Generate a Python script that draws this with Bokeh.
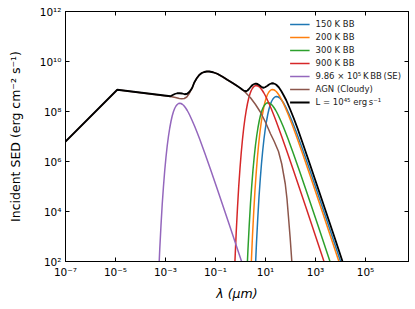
from bokeh.plotting import figure
from bokeh.models import FixedTicker, CustomJSTickFormatter, LogAxis
from bokeh.embed import file_html
from bokeh.resources import INLINE

# ---- data: log10(lambda / micron) and log10(SED / erg cm^-2 s^-1) ----
bb150_loglam = [0.58, 0.64, 0.69, 0.74, 0.79, 0.84, 0.89, 0.94, 0.99, 1.04, 1.09, 1.14, 1.19, 1.24, 1.29, 1.34, 1.39, 1.44,
                1.49, 1.54, 1.59, 1.64, 1.69, 1.74, 1.79, 1.84, 1.94, 2.04, 2.14, 2.24, 2.44, 2.69, 2.94, 3.44, 3.94, 4.44]
bb150_logsed = [1.40, 2.76, 3.72, 4.58, 5.29, 5.92, 6.45, 6.91, 7.29, 7.61, 7.88, 8.10, 8.27, 8.40, 8.49, 8.55, 8.59, 8.60,
                8.59, 8.56, 8.52, 8.46, 8.39, 8.31, 8.22, 8.12, 7.90, 7.67, 7.42, 7.16, 6.61, 5.90, 5.17, 3.69, 2.19, 0.69]

bb200_loglam = [0.42, 0.48, 0.53, 0.58, 0.63, 0.68, 0.73, 0.78, 0.83, 0.88, 0.93, 0.98, 1.03, 1.08, 1.13, 1.18, 1.23, 1.28,
                1.33, 1.38, 1.43, 1.48, 1.53, 1.58, 1.63, 1.68, 1.78, 1.88, 1.98, 2.08, 2.28, 2.53, 2.78, 3.28, 3.78, 4.28]
bb200_logsed = [1.68, 3.04, 4.00, 4.86, 5.57, 6.20, 6.73, 7.19, 7.57, 7.89, 8.16, 8.38, 8.55, 8.68, 8.77, 8.83, 8.87, 8.88,
                8.87, 8.84, 8.80, 8.74, 8.67, 8.59, 8.50, 8.40, 8.18, 7.95, 7.70, 7.44, 6.89, 6.18, 5.45, 3.97, 2.47, 0.97]

bb300_loglam = [0.24, 0.30, 0.35, 0.40, 0.45, 0.50, 0.55, 0.60, 0.65, 0.70, 0.75, 0.80, 0.85, 0.90, 0.95, 1.00, 1.05, 1.10,
                1.15, 1.20, 1.25, 1.30, 1.35, 1.40, 1.45, 1.50, 1.60, 1.70, 1.80, 1.90, 2.10, 2.35, 2.60, 3.10, 3.60, 4.10]
bb300_logsed = [1.15, 2.51, 3.47, 4.33, 5.04, 5.67, 6.20, 6.66, 7.04, 7.36, 7.63, 7.85, 8.02, 8.15, 8.24, 8.30, 8.34, 8.35,
                8.34, 8.31, 8.27, 8.21, 8.14, 8.06, 7.97, 7.87, 7.65, 7.42, 7.17, 6.91, 6.36, 5.65, 4.92, 3.44, 1.94, 0.44]

bb900_loglam = [-0.23, -0.17, -0.12, -0.07, -0.02, 0.03, 0.08, 0.13, 0.18, 0.23, 0.28, 0.33, 0.38, 0.43, 0.48, 0.53, 0.58, 0.63,
                0.68, 0.73, 0.78, 0.83, 0.88, 0.93, 0.98, 1.03, 1.13, 1.23, 1.33, 1.43, 1.63, 1.88, 2.13, 2.63, 3.13, 3.63]
bb900_logsed = [1.84, 3.20, 4.16, 5.02, 5.73, 6.36, 6.89, 7.35, 7.73, 8.05, 8.32, 8.54, 8.71, 8.84, 8.93, 8.99, 9.03, 9.04,
                9.03, 9.00, 8.96, 8.90, 8.83, 8.75, 8.66, 8.56, 8.34, 8.11, 7.86, 7.60, 7.05, 6.34, 5.61, 4.13, 2.63, 1.13]

se_loglam = [-3.29, -3.23, -3.18, -3.13, -3.08, -3.03, -2.98, -2.93, -2.88, -2.83, -2.78, -2.73, -2.68, -2.63, -2.58, -2.53,
             -2.48, -2.43, -2.38, -2.33, -2.28, -2.23, -2.18, -2.13, -2.08, -2.03, -1.93, -1.83, -1.73, -1.63, -1.43, -1.18,
             -0.93, -0.43, 0.07, 0.57]
se_logsed = [1.13, 2.49, 3.45, 4.31, 5.02, 5.65, 6.18, 6.64, 7.02, 7.34, 7.61, 7.83, 8.00, 8.13, 8.22, 8.28,
             8.32, 8.33, 8.32, 8.29, 8.25, 8.19, 8.12, 8.04, 7.95, 7.85, 7.63, 7.40, 7.15, 6.89, 6.34, 5.63,
             4.90, 3.42, 1.92, 0.42]

agn_loglam = [-7.0, -4.93, -2.8, -2.6, -2.45, -2.35, -2.25, -2.15, -2.05, -1.95, -1.85, -1.75, -1.65, -1.55, -1.45, -1.35,
              -1.25, -1.1, -0.93, -0.7, -0.53, -0.3, -0.13, 0.0, 0.2, 0.4, 0.6, 0.8, 1.0, 1.2, 1.35, 1.52, 1.65, 1.79,
              1.86, 1.92, 1.99, 2.05, 2.10]
agn_logsed = [6.80, 8.87, 8.60, 8.56, 8.52, 8.51, 8.52, 8.58, 8.72, 8.90, 9.15, 9.33, 9.46, 9.54, 9.58, 9.60,
              9.60, 9.57, 9.51, 9.38, 9.27, 9.13, 9.02, 8.93, 8.76, 8.55, 8.28, 7.97, 7.57, 7.11, 6.80, 6.40, 5.90, 5.11,
              4.50, 3.77, 2.90, 2.04, 1.20]

tot_loglam = [-7.0, -4.93, -2.8, -2.73, -2.63, -2.53, -2.43, -2.33, -2.23, -2.13, -2.03, -1.93, -1.85, -1.75, -1.65, -1.55,
              -1.45, -1.35, -1.25, -1.1, -0.93, -0.7, -0.53, -0.3, -0.13, 0.0, 0.08, 0.13, 0.18, 0.23, 0.28, 0.33, 0.38,
              0.43, 0.48, 0.53, 0.58, 0.63, 0.68, 0.73, 0.78, 0.83, 0.88, 0.93, 0.98, 1.03, 1.08, 1.13, 1.18, 1.23, 1.28,
              1.33, 1.38, 1.43, 1.53, 1.63, 1.73, 1.83, 1.98, 2.13, 2.28, 2.53, 2.78, 3.28, 3.78, 4.28]
tot_logsed = [6.80, 8.87, 8.61, 8.65, 8.70, 8.73, 8.73, 8.72, 8.69, 8.71, 8.80, 8.95, 9.16, 9.33, 9.46, 9.54,
              9.58, 9.60, 9.60, 9.57, 9.51, 9.38, 9.27, 9.13, 9.02, 8.93, 8.87, 8.84, 8.82, 8.81, 8.84, 8.89, 8.95,
              9.01, 9.06, 9.09, 9.11, 9.11, 9.10, 9.07, 9.03, 8.99, 8.96, 8.95, 8.97, 9.00, 9.03, 9.07, 9.10, 9.12, 9.13,
              9.12, 9.10, 9.07, 8.97, 8.82, 8.64, 8.45, 8.10, 7.73, 7.33, 6.61, 5.88, 4.40, 2.91, 1.40]

x_tick_exps = [-7, -5, -3, -1, 1, 3, 5]
y_tick_exps = [2, 4, 6, 8, 10, 12]

series = [
    ("150 K BB", bb150_loglam, bb150_logsed, "#1f77b4", 1.5),
    ("200 K BB", bb200_loglam, bb200_logsed, "#ff7f0e", 1.5),
    ("300 K BB", bb300_loglam, bb300_logsed, "#2ca02c", 1.5),
    ("900 K BB", bb900_loglam, bb900_logsed, "#d62728", 1.5),
    ("9.86 \u00d7 10\u2075\u2009K\u2009BB\u2009(SE)", se_loglam, se_logsed, "#9467bd", 1.5),
    ("AGN (Cloudy)", agn_loglam, agn_logsed, "#8c564b", 1.5),
    ("L = 10\u2074\u2075 erg\u2009s\u207b\u00b9", tot_loglam, tot_logsed, "#000000", 1.8),
]

FONT = "DejaVu Sans"

p = figure(width=412, height=303, x_axis_type="log", y_axis_type="log",
           x_range=(1e-7, 5.25e6), y_range=(1e2, 1e12),
           output_backend="svg", toolbar_location=None,
           min_border_left=65, min_border_right=4, min_border_top=11, min_border_bottom=42)

for label, lx, ly, color, lw in series:
    p.line([10 ** v for v in lx], [10 ** v for v in ly], line_color=color, line_width=lw,
           line_join="round", legend_label=label)

sup_code = """
const sup = {'-':'\u207b','0':'\u2070','1':'\u00b9','2':'\u00b2','3':'\u00b3','4':'\u2074','5':'\u2075','6':'\u2076','7':'\u2077','8':'\u2078','9':'\u2079'};
const e = Math.round(Math.log10(tick));
return '10' + String(e).split('').map(c => sup[c]).join('');
"""

xt = FixedTicker(ticks=[10.0 ** e for e in x_tick_exps])
yt = FixedTicker(ticks=[10.0 ** e for e in y_tick_exps])

p.xaxis.ticker = xt
p.yaxis.ticker = yt
p.xaxis.formatter = CustomJSTickFormatter(code=sup_code)
p.yaxis.formatter = CustomJSTickFormatter(code=sup_code)

for ax in (p.xaxis[0], p.yaxis[0]):
    ax.major_tick_in = 4
    ax.major_tick_out = 0
    ax.minor_tick_line_color = None
    ax.axis_line_color = "black"
    ax.major_tick_line_color = "black"
    ax.major_label_text_font = FONT
    ax.major_label_text_font_size = "10.5px"
    ax.major_label_text_color = "black"
    ax.major_label_standoff = 4
    ax.axis_label_text_font = FONT
    ax.axis_label_text_font_size = "12.5px"
    ax.axis_label_text_font_style = "normal"
    ax.axis_label_text_color = "black"

p.xaxis.axis_label = "\u03bb (\u03bcm)"
p.xaxis.axis_label_text_font_style = "italic"
p.xaxis.axis_label_standoff = 5
p.yaxis.axis_label = "Incident SED (erg cm\u207b\u00b2 s\u207b\u00b9)"
p.yaxis.axis_label_standoff = 14

for loc, tk in (("above", xt), ("right", yt)):
    a = LogAxis(ticker=tk, formatter=CustomJSTickFormatter(code="return '';"))
    a.major_tick_in = 4
    a.major_tick_out = 0
    a.minor_tick_line_color = None
    a.major_label_text_font_size = "0px"
    a.major_label_standoff = 0
    a.axis_line_color = "black"
    p.add_layout(a, loc)

p.xgrid.visible = False
p.ygrid.visible = False
p.outline_line_color = "black"
p.outline_line_width = 1

lg = p.legend[0]
lg.location = "top_right"
lg.border_line_color = None
lg.background_fill_alpha = 0
lg.label_text_font = FONT
lg.label_text_font_size = "8.5px"
lg.label_text_color = "#222222"
lg.glyph_width = 20
lg.glyph_height = 12
lg.label_height = 12
lg.spacing = 1
lg.padding = 4
lg.margin = 7
lg.label_standoff = 6

open("out.html", "w").write(file_html(p, INLINE))
